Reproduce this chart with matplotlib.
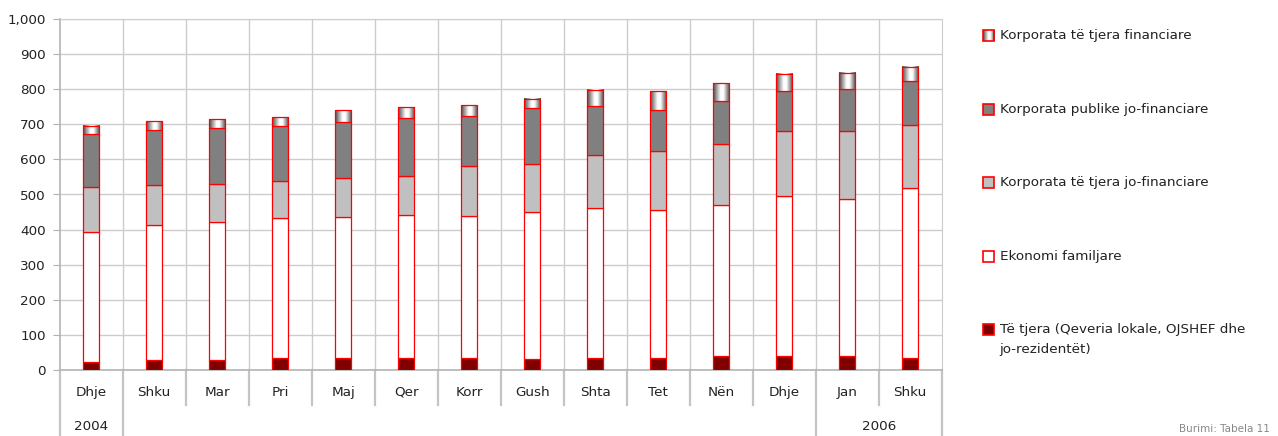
import matplotlib
matplotlib.use('Agg')
import matplotlib.pyplot as plt
import numpy as np
from matplotlib.colors import LinearSegmentedColormap
from matplotlib.patches import Rectangle
from matplotlib.ticker import FuncFormatter, MultipleLocator
import matplotlib.transforms as mtransforms

plt.rcParams['font.family'] = ['DejaVu Sans']

# ---- data ----
months = ["Dhje", "Shku", "Mar", "Pri", "Maj", "Qer", "Korr", "Gush", "Shta",
          "Tet", "Nën", "Dhje", "Jan", "Shku"]
year_labels = ["2004", "", "2006"]
year_start = [0, 1, 12]
year_end = [0, 11, 13]

others = [24, 30, 30, 34, 34, 34, 36, 33, 36, 34, 40, 40, 40, 36]
households = [369, 382, 392, 398, 403, 408, 402, 416, 425, 421, 430, 455, 447, 483]
other_nonfin = [128, 114, 109, 105, 109, 111, 144, 139, 150, 170, 174, 186, 194, 179]
public_nonfin = [152, 158, 159, 158, 161, 165, 142, 157, 140, 116, 123, 113, 118, 124]
other_fin = [23, 24, 25, 25, 32, 31, 30, 28, 46, 52, 50, 50, 47, 41]

series_names = ["Të tjera (Qeveria lokale, OJSHEF dhe\njo-rezidentët)",
                "Ekonomi familjare",
                "Korporata të tjera jo-financiare",
                "Korporata publike jo-financiare",
                "Korporata të tjera financiare"]

# ---- figure ----
W, H = 1278, 436
fig = plt.figure(figsize=(W / 100, H / 100), dpi=100)
x0, x1, ytop, ybot = 59.7, 941.7, 18.7, 370.3
ax = fig.add_axes([x0 / W, 1 - ybot / H, (x1 - x0) / W, (ybot - ytop) / H])

edge = '#ff0000'
lw = 0.9
bw = 0.26
x = np.arange(len(months))
bottom = np.zeros(len(months))
fills = ['#800000', '#ffffff', '#c0c0c0', '#808080']
for vals, col in zip([others, households, other_nonfin, public_nonfin], fills):
    ax.bar(x, vals, bw, bottom=bottom, color=col, edgecolor=edge, linewidth=lw, zorder=3)
    bottom = bottom + np.array(vals)

fin = ax.bar(x, other_fin, bw, bottom=bottom, facecolor='none', edgecolor=edge,
             linewidth=lw, zorder=5)
gcmap = LinearSegmentedColormap.from_list(
    'g', [(0, '#4a4a4a'), (0.45, '#ffffff'), (0.62, '#ffffff'), (1, '#4a4a4a')])
grad = np.linspace(0, 1, 64)[None, :]
for p in fin.patches:
    ax.imshow(grad, extent=[p.get_x(), p.get_x() + p.get_width(),
                            p.get_y(), p.get_y() + p.get_height()],
              cmap=gcmap, aspect='auto', zorder=4, interpolation='bilinear')

ax.set_xlim(-0.5, len(months) - 0.5)
ax.set_ylim(0, 1000)
ax.yaxis.set_major_locator(MultipleLocator(100))
ax.yaxis.set_major_formatter(FuncFormatter(lambda v, p: f'{int(v):,}'))
ax.set_xticks([])
ax.set_xticks(np.arange(0.5, len(months) - 0.5, 1), minor=True)
ax.tick_params(axis='x', which='both', length=0)
ax.tick_params(axis='y', length=5, color='#b0b0b0', labelsize=9.7, pad=5,
               labelcolor='#222222')
gridc = '#cccccc'
ax.grid(axis='y', color=gridc, linewidth=1, zorder=0)
ax.grid(axis='x', which='minor', color=gridc, linewidth=1, zorder=0)
ax.set_axisbelow(True)
for s in ['top', 'right']:
    ax.spines[s].set_color(gridc)
for s in ['left', 'bottom']:
    ax.spines[s].set_color('#b4b4b4')
    ax.spines[s].set_linewidth(1.2)

# category table below the axis
trans = mtransforms.blended_transform_factory(ax.transData, ax.transAxes)
axh = ybot - ytop
short = -(405 - ybot) / axh
long_ = -(H - ybot + 2) / axh
group_edges = set([s - 0.5 for s in year_start] + [year_end[-1] + 0.5])
for i in range(len(months) + 1):
    b = i - 0.5
    yl = long_ if b in group_edges else short
    ax.plot([b, b], [0, yl], transform=trans, clip_on=False,
            color='#c4c4c4', linewidth=1.6)
for i, m in enumerate(months):
    ax.text(i, -(392 - ybot) / axh, m, transform=trans, ha='center', va='center',
            fontsize=9.7, color='#222222')
for lab, s, e in zip(year_labels, year_start, year_end):
    ax.text((s + e) / 2, -(426 - ybot) / axh, lab, transform=trans, ha='center',
            va='center', fontsize=9.7, color='#222222')

# ---- legend (manual, top entry first) ----
centers = [329, 256, 182.5, 109.5, 36]
sq = 11
for k, (name, c) in enumerate(zip(series_names, centers)):
    left = 983.5 / W
    bot = 1 - (c + sq / 2) / H
    if k < 4:
        fig.add_artist(Rectangle((left, bot), sq / W, sq / H, transform=fig.transFigure,
                                 facecolor=fills[k], edgecolor=edge, linewidth=1.2))
    else:
        lax = fig.add_axes([left, bot, sq / W, sq / H])
        lax.imshow(grad, cmap=gcmap, aspect='auto', interpolation='bilinear')
        lax.set_axis_off()
        fig.add_artist(Rectangle((left, bot), sq / W, sq / H, transform=fig.transFigure,
                                 facecolor='none', edgecolor=edge, linewidth=1.2))
    lines = name.split('\n')
    for j, line in enumerate(lines):
        fig.text(999.5 / W, 1 - (c + j * 21) / H, line, ha='left', va='center',
                 fontsize=9.7, color='#222222')

fig.text(1270 / W, 1 - 434 / H, "Burimi: Tabela 11", ha='right', va='bottom',
         fontsize=7.5, color='#888888')

fig.savefig('out.png', dpi=100)
